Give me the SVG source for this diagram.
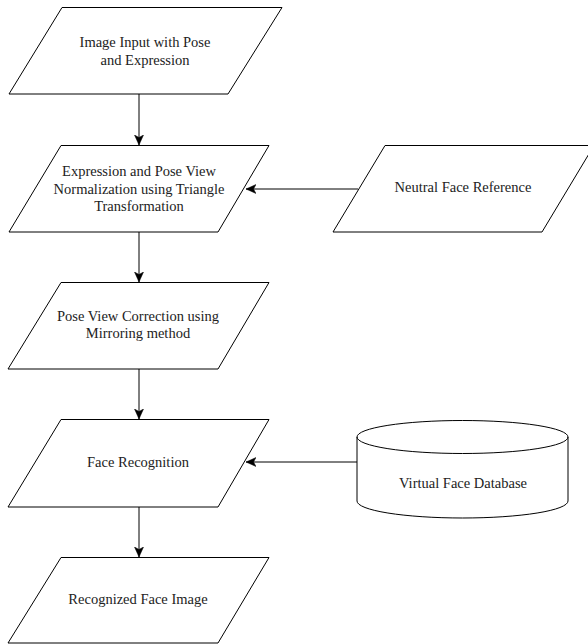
<svg xmlns="http://www.w3.org/2000/svg" width="588" height="644" viewBox="0 0 588 644">
<style>
.shape{fill:#fff;stroke:#000;stroke-width:1}
.lbl{font-family:'Liberation Serif','Times New Roman',serif;font-size:14.5px;fill:#222;text-anchor:middle}
.conn{fill:none;stroke:#000;stroke-width:1}
</style>
<defs>
<marker id="arr" markerWidth="11" markerHeight="10" refX="10" refY="4.5" orient="auto" markerUnits="userSpaceOnUse">
<path d="M0,0 L10,4.5 L0,9 L2.5,4.5 Z" fill="#000" stroke="#000" stroke-width="0.5"/>
</marker>
</defs>
<rect width="588" height="644" fill="#fff"/>
<g id="n1">
<polygon class="shape" points="62,7.5 282,7.5 228,94 9,94"/>
<text class="lbl" x="145" y="47">Image Input with Pose</text>
<text class="lbl" x="145" y="65">and Expression</text>
</g>
<g id="n2">
<polygon class="shape" points="61,145.5 269,145.5 218,232 9,232"/>
<text class="lbl" x="139" y="176">Expression and Pose View</text>
<text class="lbl" x="139" y="194">Normalization using Triangle</text>
<text class="lbl" x="139" y="211">Transformation</text>
</g>
<g id="n_ref">
<polygon class="shape" points="385,145.5 594,145.5 542,232 333,232"/>
<text class="lbl" x="463" y="192">Neutral Face Reference</text>
</g>
<g id="n3">
<polygon class="shape" points="61,282.5 269,282.5 218,369 8,369"/>
<text class="lbl" x="138" y="321">Pose View Correction using</text>
<text class="lbl" x="138" y="338">Mirroring method</text>
</g>
<g id="n4">
<polygon class="shape" points="61,419.5 269,419.5 218,507 8,507"/>
<text class="lbl" x="138" y="467">Face Recognition</text>
</g>
<g id="n_db">
<path class="shape" d="M357,437 A105.5,16.5 0 0 1 568,437 L568,501 A105.5,17 0 0 1 357,501 Z"/>
<path class="shape" style="fill:none" d="M357,437 A105.5,16.5 0 0 0 568,437"/>
<text class="lbl" x="463" y="488">Virtual Face Database</text>
</g>
<g id="n5">
<polygon class="shape" points="61,557.5 269,557.5 218,643 8,643"/>
<text class="lbl" x="138" y="604">Recognized Face Image</text>
</g>
<g id="connectors">
<line class="conn" x1="139" y1="94" x2="139" y2="145" marker-end="url(#arr)"/>
<line class="conn" x1="139" y1="232" x2="139" y2="282" marker-end="url(#arr)"/>
<line class="conn" x1="139" y1="369" x2="139" y2="419" marker-end="url(#arr)"/>
<line class="conn" x1="139" y1="507" x2="139" y2="557" marker-end="url(#arr)"/>
<line class="conn" x1="358" y1="189" x2="246" y2="189" marker-end="url(#arr)"/>
<line class="conn" x1="357" y1="462" x2="246" y2="462" marker-end="url(#arr)"/>
</g>
</svg>
